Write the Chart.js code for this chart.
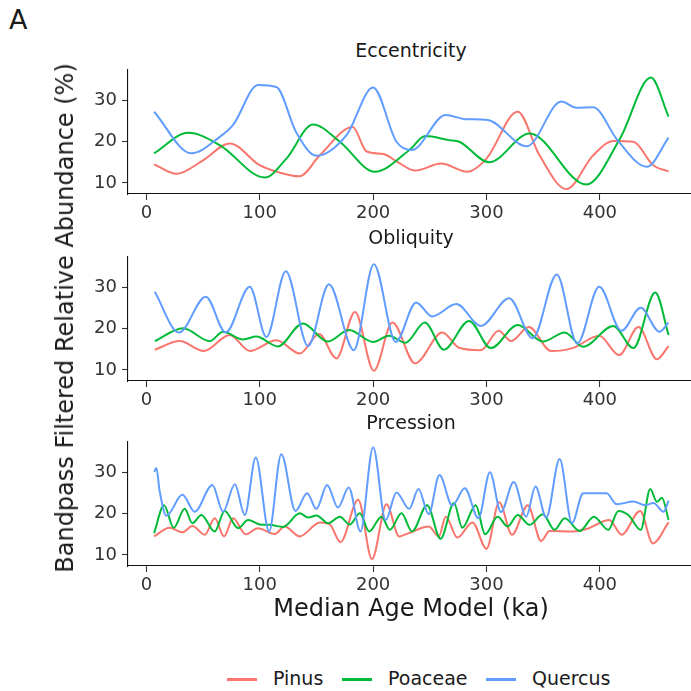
<!DOCTYPE html>
<html><head><meta charset="utf-8">
<script src="https://cdn.jsdelivr.net/npm/chart.js@4.4.1/dist/chart.umd.min.js"></script>
<style>
body{margin:0;width:691px;height:691px;overflow:hidden;background:#fff;position:relative;font-family:"DejaVu Sans",sans-serif;}
canvas{position:absolute;left:0;}
.t{position:absolute;color:#1a1a1a;white-space:nowrap;line-height:1;}
.strip{font-size:19px;width:300px;text-align:center;left:261px;}
.lg{position:absolute;height:3px;width:30px;top:678px;}
</style></head><body>
<script>
// ---- data ----
const seriesNames = ["Pinus", "Poaceae", "Quercus"];
const seriesColors = ["#F8766D", "#00BA38", "#619CFF"];
const panelTitles = ["Eccentricity", "Obliquity", "Prcession"];
const xTicks = [0, 100, 200, 300, 400];
const yTicks = [10, 20, 30];

// Eccentricity
const eccPinusX = [6.8,26.5,50,73.5,100,117.6,135,153,182,194,209,222,237,260,283,300,327.5,346.7,370.4,394,412,429.6,447,460.6];
const eccPinusY = [14.5,12.2,15.5,19.6,14.3,12.5,11.6,16.7,23.6,17.7,17.0,15.0,13.0,14.7,12.7,15.9,27.3,16.7,8.5,16.7,20.2,20.0,14.3,12.8];
const eccPoaceaeX = [6.8,36.8,64.7,104.4,123.5,147,170.6,201.5,232,246,267,276,302.4,338,388,417.8,445,460.6];
const eccPoaceaeY = [17.2,22.2,19.2,11.3,15.9,24.2,20.0,12.7,18.0,21.4,20.4,20.0,15.0,22.0,9.6,20.8,35.6,26.1];
const eccQuercusX = [6.8,39.7,64.7,76.5,98.5,114.7,132,150,176.5,200,220.6,234,264,281.7,301,335.5,366,379.3,394,416,441.4,460.6];
const eccQuercusY = [27.3,17.2,21.2,24.1,33.8,33.3,22.4,16.6,21.6,33.2,20.0,18.0,26.5,25.5,25.3,18.9,29.8,28.3,28.4,20.2,13.9,21.0];

// Obliquity
const oblPinusX = [7.4,29.4,50.6,73.5,91.2,114.7,135.3,152.4,167.6,184,200.6,217,237,261,275.7,295,310.7,321.6,337.3,357,376,399.4,416.9,434,450.3,460.6];
const oblPinusY = [14.9,17.0,14.6,18.5,14.6,17.2,14.0,18.7,12.8,24.1,9.8,21.5,11.6,19.1,15.4,14.8,19.5,17.0,20.4,14.6,15.3,18.3,13.6,20.4,12.6,15.8];
const oblPoaceaeX = [7.4,32.4,56,67.6,85.3,97,116,138,160,178.8,200,214,228.4,245.6,262.4,284.6,303.8,327.5,349.7,369,385.2,411.8,429.6,448.8,460.6];
const oblPoaceaeY = [17.0,20.1,17.0,19.3,17.4,18.1,15.7,21.3,16.9,19.7,16.8,18.3,16.6,21.5,14.9,21.9,15.3,20.9,16.9,19.1,15.6,20.7,15.3,28.8,18.5];
const oblQuercusX = [7.4,28.8,52.4,70,91.2,105.9,123,142.6,161,183,200.6,220,237.9,252,273.4,295,320,340.8,362,380,399.4,419,436,452.5,460.5];
const oblQuercusY = [29.0,19.1,27.8,19.1,30.2,18.0,34.0,15.8,30.8,14.8,35.7,16.8,26.4,23.0,26.0,20.7,27.4,17.7,33.2,16.4,30.2,19.5,25.1,19.3,21.5];

// Precession
const prePinusX = [6.8,20.6,31.8,40.6,51.5,60.3,68.5,76.5,87.6,98.5,113.2,122,135.3,153,161.8,171.2,186.8,199,211.8,223,231.4,249,258,264,274.3,287.6,300,311.2,322.5,336.4,348.2,355.6,376.3,388.2,408.3,419.2,435.5,446.7,460.6];
const prePinusY = [14.5,16.6,15.5,17.0,14.9,18.9,14.5,18.9,15.0,16.5,15.1,16.9,14.5,17.9,17.4,13.1,23.4,9.0,22.3,14.5,15.3,16.9,14.5,19.3,14.2,17.9,11.5,22.8,14.9,22.1,13.4,15.8,15.7,16.3,18.5,14.9,20.7,12.8,17.9];
const prePoaceaeX = [6.8,15.6,24.1,33.8,40.6,48.5,60.3,69,80.9,89.7,100,108.8,120.6,135.3,142.6,150,160.3,170.6,179.4,188.2,196.5,207.4,214.7,225,234.3,247.6,259.5,271.3,278.7,290.5,298.8,309.8,318.6,327.5,337.9,349.7,360,369,382.2,394.7,407.4,416.3,425.1,436,444.4,450.3,454.7,460.6];
const prePoaceaeY = [15.3,22.1,16.6,21.2,17.7,19.7,15.7,20.7,16.5,18.5,17.4,17.3,16.8,20.1,19.1,19.6,17.7,19.3,17.4,20.1,15.7,19.3,16.1,20.1,15.7,22.1,13.9,22.6,16.6,22.1,15.0,19.3,16.9,19.7,17.3,19.9,16.1,18.9,15.8,19.3,16.1,20.7,19.7,16.1,26.0,22.9,23.9,18.5];
const preQuercusX = [6.8,8.8,11.8,17.6,31.8,42.6,58.2,67.6,78,86.8,96.5,108.2,119,131.5,141.8,150,159.4,169,178.5,188.8,200,211,220.6,231.8,240,249,258.5,269.8,280.8,292.9,303,312.7,324,335,343.2,352.7,364.5,375.4,385.2,405.9,414.8,429.6,440,447.3,456.2,460.6];
const preQuercusY = [30.2,31.1,25.4,19.5,24.6,20.5,27.0,20.5,27.2,19.7,33.7,15.7,34.5,20.7,25.0,21.2,27.0,21.5,26.4,15.7,36.2,18.5,25.2,21.2,26.0,19.9,29.4,22.0,26.2,18.9,30.1,20.4,27.7,19.3,26.6,19.1,33.3,17.7,25.0,25.0,22.3,23.0,22.1,22.6,20.5,23.2];

const panels = [
  [[eccPinusX, eccPinusY], [eccPoaceaeX, eccPoaceaeY], [eccQuercusX, eccQuercusY]],
  [[oblPinusX, oblPinusY], [oblPoaceaeX, oblPoaceaeY], [oblQuercusX, oblQuercusY]],
  [[prePinusX, prePinusY], [prePoaceaeX, prePoaceaeY], [preQuercusX, preQuercusY]]
];

// ---- layout ----
const panelTops = [70, 256.5, 442];
const PLOT_H = 124, PAD_TOP = 5, XAX_H = 40, YAX_W = 128, CAN_W = 694;
const X_MIN = -16.2, X_MAX = 483, Y_MIN = 7.3, Y_MAX = 37.45;

function addText(txt, cls, style) {
  const d = document.createElement('div');
  d.className = 't ' + (cls || '');
  d.textContent = txt;
  Object.assign(d.style, style);
  document.body.appendChild(d);
  return d;
}

panels.forEach((series, pi) => {
  const cv = document.createElement('canvas');
  cv.width = CAN_W; cv.height = PLOT_H + PAD_TOP + XAX_H;
  cv.style.top = (panelTops[pi] - PAD_TOP) + 'px';
  document.body.appendChild(cv);
  new Chart(cv, {
    type: 'line',
    data: {
      datasets: series.map((s, si) => ({
        label: seriesNames[si],
        data: s[0].map((x, i) => ({x: x, y: s[1][i]})),
        borderColor: seriesColors[si],
        borderWidth: 2,
        pointRadius: 0,
        fill: false,
        cubicInterpolationMode: 'monotone',
        order: 2 - si
      }))
    },
    options: {
      responsive: false, animation: false, events: [],
      layout: {padding: {top: PAD_TOP, right: 0, left: 0, bottom: 0}},
      plugins: {legend: {display: false}, tooltip: {enabled: false}},
      scales: {
        x: {
          type: 'linear', min: X_MIN, max: X_MAX,
          afterBuildTicks: s => { s.ticks = xTicks.map(v => ({value: v})); },
          afterFit: s => { s.height = XAX_H; s.paddingLeft = 0; s.paddingRight = 0; },
          grid: {drawOnChartArea: false, drawTicks: true, tickLength: 6, color: '#333', tickWidth: 1.1},
          border: {display: true, color: '#111', width: 1.1},
          ticks: {color: '#333', font: {family: 'DejaVu Sans', size: 18}, padding: 3, maxRotation: 0, autoSkip: false}
        },
        y: {
          type: 'linear', min: Y_MIN, max: Y_MAX,
          afterBuildTicks: s => { s.ticks = yTicks.map(v => ({value: v})); },
          afterFit: s => { s.width = YAX_W; s.paddingTop = 0; s.paddingBottom = 0; },
          grid: {drawOnChartArea: false, drawTicks: true, tickLength: 6, color: '#333', tickWidth: 1.1},
          border: {display: true, color: '#111', width: 1.1},
          ticks: {color: '#333', font: {family: 'DejaVu Sans', size: 18}, padding: 5}
        }
      }
    }
  });
  addText(panelTitles[pi], 'strip', {top: (panelTops[pi] - 29) + 'px'});
});

addText('A', '', {left: '9px', top: '6px', fontSize: '27px'});
addText('Bandpass Filtered Relative Abundance (%)', '', {
  left: '65px', top: '318px', fontSize: '24px',
  transform: 'translate(-50%,-50%) rotate(-90deg)'
});
addText('Median Age Model (ka)', '', {left: '411px', top: '608px', fontSize: '24px', transform: 'translate(-50%,-50%)'});

const legLineX = [227, 342, 486];
const legTextX = [273, 388, 532];
seriesNames.forEach((n, i) => {
  const l = document.createElement('div');
  l.className = 'lg';
  l.style.left = legLineX[i] + 'px';
  l.style.background = seriesColors[i];
  document.body.appendChild(l);
  addText(n, '', {left: legTextX[i] + 'px', top: '669px', fontSize: '19px'});
});
</script>
</body></html>
